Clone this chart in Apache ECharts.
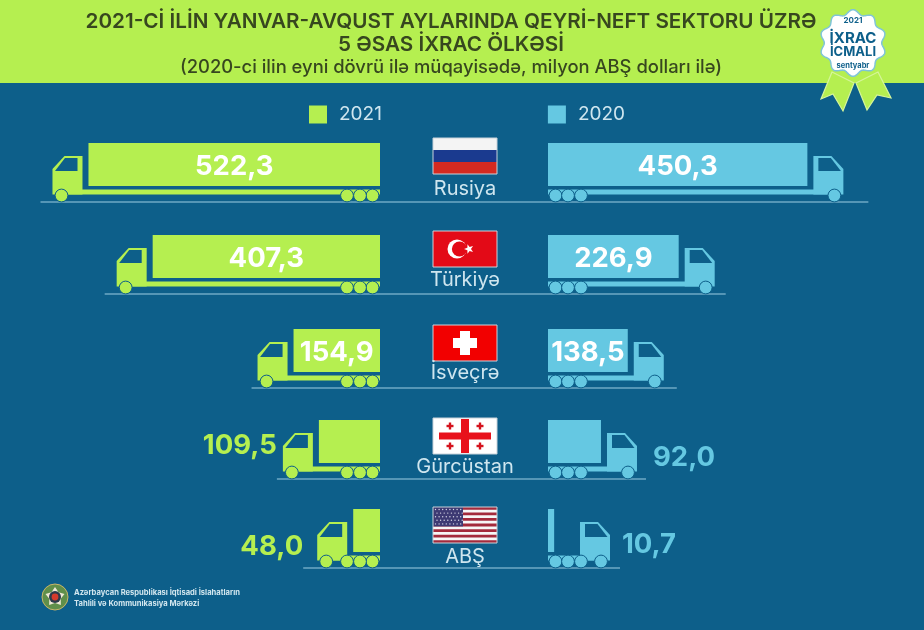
<!DOCTYPE html>
<html><head><meta charset="utf-8">
<style>html,body{margin:0;padding:0;background:#0d5f8a}#c{width:924px;height:630px}</style>
<script src="https://cdn.jsdelivr.net/npm/echarts@6/dist/echarts.min.js"></script>
</head><body><div id="c"></div>
<script>
// ---- data ----
const countries = ['Rusiya', 'Türkiyə', 'İsveçrə', 'Gürcüstan', 'ABŞ'];
const values2021 = [522.3, 407.3, 154.9, 109.5, 48.0];
const values2020 = [450.3, 226.9, 138.5, 92.0, 10.7];
const titleLines = ['2021-Cİ İLİN YANVAR-AVQUST AYLARINDA QEYRİ-NEFT SEKTORU ÜZRƏ', '5 ƏSAS İXRAC ÖLKƏSİ'];
const subtitle = '(2020-ci ilin eyni dövrü ilə müqayisədə, milyon ABŞ dolları ilə)';
const footerLines = ['Azərbaycan Respublikası İqtisadi İslahatların', 'Tahlili və Kommunikasiya Mərkəzi'];

// ---- layout / style (not data) ----
const FONT = 'Inter, "Open Sans", sans-serif';
const BG = '#0d5f8a', GREEN = '#b5ef50', CYAN = '#65c8e2', RULE = '#6ea9c5', DARK = '#37471f';
const rowNudge = [0, 0, 2, 1, -2];
const nameDy = [23, 22, 21, 24, 25];
const overhang = { left: [12, 12, 6, 6, 14], right: [25, 11, 13, 9, 10] };
const outGap = { left: [0, 0, 0, 6, 14], right: [0, 0, 0, 16, 12] };
const outDy = { left: [0, 0, 0, 3, 15], right: [0, 0, 0, 15, 13] };
const CENTER_X = 464;

function truck(side, color) {
  const dir = side === 'left' ? -1 : 1;
  return function (params, api) {
    const i = api.value(1), v = api.value(0);
    const end = api.coord([v, i]), start = api.coord([0, i]);
    const x0 = start[0], len = Math.abs(end[0] - x0);
    const cy = end[1] + rowNudge[i], g = cy + 36;
    const X = d => x0 + dir * d;
    const outer = Math.max(len + 36, 62), inner = outer - 30;
    const kids = [];
    kids.push({ type: 'line', shape: { x1: X(outer + overhang[side][i]), y1: g, x2: CENTER_X, y2: g }, style: { stroke: RULE, lineWidth: 1.5 } });
    kids.push({ type: 'rect', shape: { x: Math.min(X(0), X(len)), y: cy - 23, width: len, height: 43 }, style: { fill: color } });
    kids.push({ type: 'rect', shape: { x: Math.min(X(0), X(outer - 5)), y: g - 12.5, width: outer - 5, height: 5 }, style: { fill: color } });
    kids.push({ type: 'polygon', shape: { points: [[X(inner), g - 46], [X(outer - 12), g - 46], [X(outer), g - 33], [X(outer), g - 7.5], [X(inner), g - 7.5]] }, style: { fill: color } });
    kids.push({ type: 'polygon', shape: { points: [[X(inner + 5), g - 44], [X(outer - 12.5), g - 44], [X(outer - 2.5), g - 31], [X(inner + 5), g - 31]] }, style: { fill: BG } });
    [7.5, 20, 33, outer - 9].forEach(d => kids.push({ type: 'circle', shape: { cx: X(d), cy: g - 6.5, r: 6.4 }, style: { fill: color, stroke: BG, lineWidth: 1 } }));
    const text = v.toFixed(1).replace('.', ',');
    if (len > 70) {
      kids.push({ type: 'text', style: { text, x: X(len / 2), y: cy + 1, fill: '#fff', font: '700 27.5px ' + FONT, align: 'center', verticalAlign: 'middle' } });
    } else {
      kids.push({ type: 'text', style: { text, x: X(outer + outGap[side][i]), y: cy + outDy[side][i], fill: color, font: '700 27.5px ' + FONT, align: side === 'left' ? 'right' : 'left', verticalAlign: 'middle' } });
    }
    if (side === 'left') {
      kids.push({ type: 'text', style: { text: countries[i], x: 465, y: cy + nameDy[i], fill: '#cfe6ef', font: '400 20px ' + FONT, align: 'center', verticalAlign: 'middle' } });
    }
    return { type: 'group', children: kids };
  };
}

// ---- flags ----
function star(cx, cy, R, r, rot) {
  const p = [];
  for (let k = 0; k < 10; k++) {
    const a = rot + k * Math.PI / 5, q = k % 2 ? r : R;
    p.push([cx + q * Math.sin(a), cy - q * Math.cos(a)]);
  }
  return p;
}
function rect(x, y, w, h, fill, extra) {
  return Object.assign({ type: 'rect', shape: { x, y, width: w, height: h }, style: { fill } }, extra || {});
}
function frame(x, y) {
  return { type: 'rect', shape: { x, y, width: 64, height: 36 }, style: { fill: 'transparent', stroke: '#c9d3da', lineWidth: 1 } };
}
function flagRussia(x, y) {
  return [rect(x, y, 64, 12, '#f4f4f4'), rect(x, y + 12, 64, 12, '#1a3a8f'), rect(x, y + 24, 64, 12, '#d42a20'), frame(x, y)];
}
function flagTurkey(x, y) {
  return [rect(x, y, 64, 36, '#e30a17'),
    { type: 'circle', shape: { cx: x + 24, cy: y + 18, r: 9.5 }, style: { fill: '#fff' } },
    { type: 'circle', shape: { cx: x + 26.5, cy: y + 18, r: 7.6 }, style: { fill: '#e30a17' } },
    { type: 'polygon', shape: { points: star(x + 36, y + 18, 5, 2, -Math.PI / 2) }, style: { fill: '#fff' } },
    frame(x, y)];
}
function flagSwiss(x, y) {
  return [rect(x, y, 64, 36, '#f20000'), rect(x + 27, y + 6, 10, 24, '#fff'), rect(x + 20, y + 13, 24, 10, '#fff'), frame(x, y)];
}
function flagGeorgia(x, y) {
  const out = [rect(x, y, 64, 36, '#fff'), rect(x + 28, y + 1, 8, 34, '#e8121c'), rect(x + 6, y + 14.5, 52, 7, '#e8121c')];
  [[17, 8], [47, 8], [17, 28], [47, 28]].forEach(c => {
    out.push(rect(x + c[0] - 1.2, y + c[1] - 3.5, 2.4, 7, '#d5121c'), rect(x + c[0] - 3.5, y + c[1] - 1.2, 7, 2.4, '#d5121c'));
  });
  out.push(frame(x, y));
  return out;
}
function flagUSA(x, y) {
  const out = [rect(x, y, 64, 36, '#f6f6f6')];
  for (let k = 0; k < 7; k++) out.push(rect(x, y + k * 36 / 6.5, 64, 2.77, '#a32a3c'));
  out.push(rect(x, y, 30, 19.4, '#3d3a73'));
  for (let r = 0; r < 5; r++) for (let c = 0; c < 8; c++) {
    out.push({ type: 'circle', shape: { cx: x + 2.5 + c * 3.6 + (r % 2 ? 1.5 : 0), cy: y + 2.5 + r * 3.6, r: 0.7 }, style: { fill: '#d8d8e8' } });
  }
  out.push(frame(x, y));
  return out;
}
const flagEls = [].concat(flagRussia(433, 138), flagTurkey(433, 231), flagSwiss(433, 325), flagGeorgia(433, 418), flagUSA(433, 507));

// ---- badge ----
const lobes = [];
for (let k = 0; k < 240; k++) {
  const a = k / 240 * Math.PI * 2, r = 31 + 2.3 * Math.cos(a * 10);
  lobes.push([853 + r * Math.sin(a), 43 - r * Math.cos(a)]);
}
const ribbonL = [[832, 72], [821, 99], [833, 94], [843, 111], [854, 83]];
const ribbonR = [[856, 83], [867, 110], [877, 95], [891, 98], [878, 72]];
const ribbonStyle = { fill: GREEN, stroke: '#d6f59b', lineWidth: 1.2 };
function bt(text, y, font, fill) {
  return { type: 'text', z: 6, style: { text, x: 853, y, font: font + ' ' + FONT, fill: fill || BG, align: 'center', verticalAlign: 'middle' } };
}

// ---- emblem ----
const emblem = [
  { type: 'circle', shape: { cx: 55, cy: 597, r: 13 }, style: { fill: '#5f8f4a', stroke: '#c8b66a', lineWidth: 1 } },
  { type: 'polygon', shape: { points: star(55, 597, 10, 6, 0) }, style: { fill: '#efe9d6' } },
  { type: 'circle', shape: { cx: 55, cy: 597, r: 6 }, style: { fill: '#2c3a4a' } },
  { type: 'circle', shape: { cx: 55, cy: 597, r: 3.4 }, style: { fill: '#d43a2c' } }
];

function txt(text, x, y, font, fill, align) {
  return { type: 'text', z: 6, style: { text, x, y, font: font + ' ' + FONT, fill, align: align || 'center', verticalAlign: 'middle' } };
}

const chart = echarts.init(document.getElementById('c'), null, { renderer: 'canvas' });
chart.setOption({
  animation: false,
  backgroundColor: BG,
  legend: {
    left: 304, top: 100, itemWidth: 18, itemHeight: 18, itemGap: 166, selectedMode: false, icon: 'rect',
    textStyle: { color: '#cfe6ef', fontSize: 19, fontFamily: FONT, padding: [0, 0, 0, 7] },
    data: ['2021', '2020']
  },
  grid: [
    { left: 20, width: 360, top: 120, height: 460 },
    { left: 548, width: 360, top: 120, height: 460 }
  ],
  xAxis: [
    { gridIndex: 0, type: 'value', min: 0, max: 645, inverse: true, show: false },
    { gridIndex: 1, type: 'value', min: 0, max: 625, show: false }
  ],
  yAxis: [
    { gridIndex: 0, type: 'category', data: countries, inverse: true, show: false },
    { gridIndex: 1, type: 'category', data: countries, inverse: true, show: false }
  ],
  series: [
    { name: '2021', type: 'custom', xAxisIndex: 0, yAxisIndex: 0, clip: false, z: 3,
      itemStyle: { color: GREEN }, renderItem: truck('left', GREEN), encode: { x: 0, y: 1 },
      data: values2021.map((v, i) => [v, i]) },
    { name: '2020', type: 'custom', xAxisIndex: 1, yAxisIndex: 1, clip: false, z: 3,
      itemStyle: { color: CYAN }, renderItem: truck('right', CYAN), encode: { x: 0, y: 1 },
      data: values2020.map((v, i) => [v, i]) }
  ],
  graphic: { elements: [
    rect(0, 0, 924, 83, GREEN, { z: 0 }),
    txt(titleLines[0], 451, 22, '600 20.7px', DARK),
    txt(titleLines[1], 451, 45, '600 20.7px', DARK),
    txt(subtitle, 451, 67, '500 18.4px', DARK),
    { type: 'group', z: 5, children: flagEls },
    { type: 'polygon', z: 5, shape: { points: ribbonL }, style: ribbonStyle },
    { type: 'polygon', z: 5, shape: { points: ribbonR }, style: ribbonStyle },
    { type: 'polygon', z: 5, shape: { points: lobes }, style: { fill: '#fff', stroke: '#7fc4d8', lineWidth: 1.5 } },
    bt('2021', 21, '700 8px'),
    bt('İXRAC', 38, '700 15px'),
    bt('İCMALI', 52, '700 13px'),
    bt('sentyabr', 66, '700 7.5px'),
    { type: 'group', z: 5, children: emblem },
    txt(footerLines[0], 74, 593, '700 7.6px', '#d3e7ef', 'left'),
    txt(footerLines[1], 74, 604, '700 7.6px', '#d3e7ef', 'left')
  ] }
});
</script></body></html>
